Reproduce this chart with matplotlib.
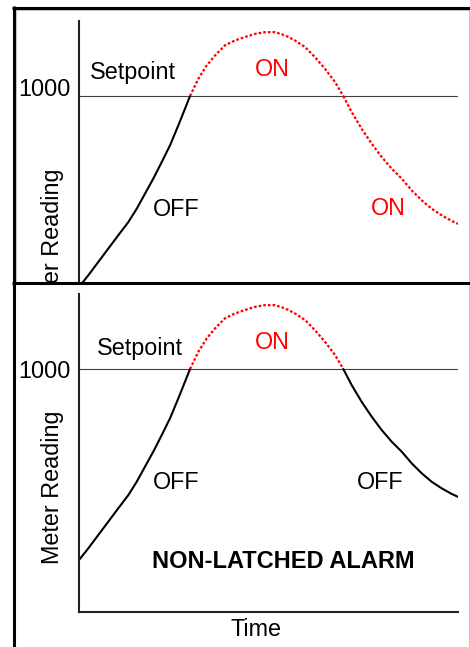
import matplotlib
matplotlib.use("Agg")
import matplotlib.pyplot as plt
from matplotlib.lines import Line2D
from matplotlib.transforms import Bbox, TransformedBbox

plt.rcParams["font.family"] = ["Liberation Sans", "DejaVu Sans"]

# 仪表读数随时间变化（上升段 / 高于设定点段 / 下降段）
time_rise = [0, 0.245, 0.509, 0.773, 1.037, 1.301, 1.522, 1.741, 1.960, 2.182,
             2.401, 2.620, 2.797, 2.929]
reading_rise = [214, 262, 317, 372, 427, 481, 536, 598, 660, 728, 797, 879, 948, 1000]
time_high = [2.929, 3.148, 3.369, 3.588, 3.852, 4.116, 4.380, 4.644, 4.908, 5.172,
             5.435, 5.699, 5.963, 6.227, 6.491, 6.755, 6.974]
reading_high = [1000, 1071, 1126, 1167, 1209, 1229, 1243, 1256, 1263, 1263,
                1250, 1229, 1202, 1160, 1112, 1058, 1000]
time_fall = [6.974, 7.195, 7.459, 7.723, 7.987, 8.251, 8.515, 8.778, 9.042, 9.306,
             9.570, 9.834, 10.0]
reading_fall = [1000, 934, 865, 804, 749, 701, 660, 612, 571, 536, 509, 486, 474]

setpoint = 1000
t_max = 10
r_max = 1309

W, H = 470, 647
fig = plt.figure(figsize=(W / 100, H / 100), dpi=100)


def px_rect(x0, y0, x1, y1):
    # 像素坐标 (左上为原点) -> figure 坐标
    return [x0 / W, 1 - y1 / H, (x1 - x0) / W, (y1 - y0) / H]


def fig_xy(x, y):
    return x / W, 1 - y / H


FS = 16.8
red_dot = dict(color="#ff0000", lw=1.6, linestyle=(0, (1.2, 0.9)), dash_capstyle="butt")
black = dict(color="black", lw=1.5, solid_capstyle="round", solid_joinstyle="round")


def draw_panel(ax, latched):
    ax.plot(time_rise, reading_rise, **black)
    ax.plot(time_high, reading_high, **red_dot)
    if latched:
        ax.plot(time_fall, reading_fall, **red_dot)
    else:
        ax.plot(time_fall, reading_fall, **black)
    ax.axhline(setpoint, color="#404040", lw=0.8, zorder=0)
    ax.set_xlim(0, t_max)
    for s in ["top", "right"]:
        ax.spines[s].set_visible(False)
    ax.spines["left"].set_linewidth(1.5)
    ax.spines["left"].set_color("#222222")
    ax.spines["bottom"].set_linewidth(1.5)
    ax.spines["bottom"].set_color("#222222")
    ax.set_xticks([])
    ax.set_yticks([setpoint])
    ax.tick_params(axis="y", length=0, pad=6, labelsize=FS)
    ax.patch.set_alpha(0)


# 上图：锁存报警（下穿设定点后仍为 ON），底部被面板边框截断
ax1 = fig.add_axes(px_rect(79, 21, 458, 282))
draw_panel(ax1, latched=True)
ax1.set_ylim((339 - 282) * 1000 / 243, r_max)
ax1.spines["bottom"].set_visible(False)
for lab in ax1.get_yticklabels():
    lab.set_va("baseline")
ax1.text(0.29, 1095, "Setpoint", fontsize=FS, va="center", ha="left")
ax1.text(2.56, 535, "OFF", fontsize=FS, va="center", ha="center")
ax1.text(5.09, 1111, "ON", fontsize=FS, va="center", ha="center", color="#ff0000")
ax1.text(8.15, 539, "ON", fontsize=FS, va="center", ha="center", color="#ff0000")

top_clip = TransformedBbox(Bbox.from_extents(15 / W, 1 - 282 / H, 469 / W, 1 - 9 / H),
                           fig.transFigure)
yl1 = fig.text(*fig_xy(53, 245), "Meter Reading", rotation=90, fontsize=FS,
               ha="center", va="center")
yl1.set_clip_box(top_clip)
yl1.set_clip_on(True)

# 下图：非锁存报警
ax2 = fig.add_axes(px_rect(79, 294, 458, 612))
draw_panel(ax2, latched=False)
ax2.set_ylim(0, r_max)
ax2.text(0.47, 1086, "Setpoint", fontsize=FS, va="center", ha="left")
ax2.text(2.56, 535, "OFF", fontsize=FS, va="center", ha="center")
ax2.text(5.09, 1111, "ON", fontsize=FS, va="center", ha="center", color="#ff0000")
ax2.text(7.94, 535, "OFF", fontsize=FS, va="center", ha="center")
fig.text(*fig_xy(283, 562), "NON-LATCHED ALARM", fontsize=17, fontweight="bold",
         ha="center", va="center")
fig.text(*fig_xy(53, 487), "Meter Reading", rotation=90, fontsize=FS,
         ha="center", va="center")
fig.text(*fig_xy(256, 629), "Time", fontsize=FS, ha="center", va="center")

# 面板边框
def frame_line(xs, ys, color, lw):
    fig.add_artist(Line2D([x / W for x in xs], [1 - y / H for y in ys],
                          transform=fig.transFigure, color=color, lw=lw,
                          solid_capstyle="butt"))


frame_line([15, 469], [10, 10], "#c8c8c8", 0.8)
frame_line([16, 16], [10, 282], "#c8c8c8", 0.8)
frame_line([469, 469], [9, 647], "#c8c8c8", 0.8)
frame_line([12, 470], [7.5, 7.5], "black", 2.2)
frame_line([13.5, 13.5], [6, 647], "black", 2.2)
frame_line([12, 470], [282.5, 282.5], "black", 2.2)

fig.savefig("out.png", dpi=100)
